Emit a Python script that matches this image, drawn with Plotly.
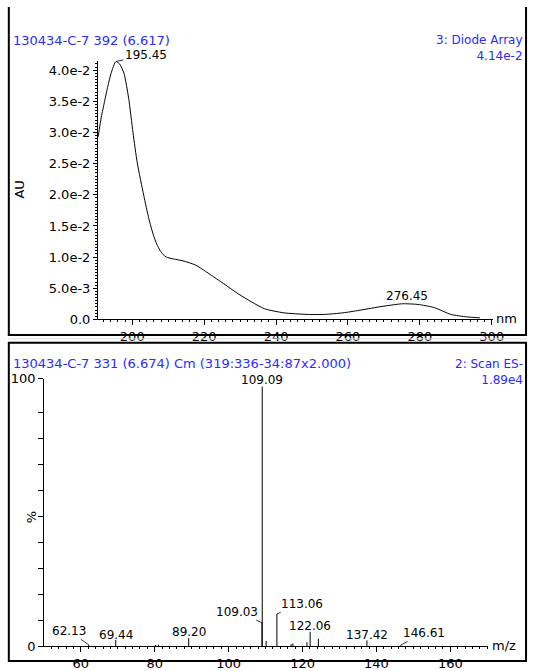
import plotly.graph_objects as go

W, H = 539, 671

# ---------------- data ----------------
uv_nm = [190.5, 191.4, 192.3, 193.2, 194.1, 195.45, 196.5, 197.7, 199.0, 200.2, 201.4,
         203.2, 204.6, 205.9, 206.8, 207.7, 208.6, 209.5, 211.5, 214.1, 217.7, 220.4,
         225.0, 229.5, 233.2, 236.8, 242.2, 248.6, 253.5, 258.6, 263.1, 268.6, 274.9,
         276.45, 279.5, 284.0, 288.6, 293.1, 296.7]
uv_au = [0.0293, 0.0325, 0.0350, 0.0374, 0.0395, 0.0414, 0.0410, 0.0395, 0.0355, 0.0300,
         0.0251, 0.0199, 0.0162, 0.0135, 0.0121, 0.0111, 0.0104, 0.0100, 0.0097, 0.0094,
         0.0087, 0.0077, 0.0059, 0.0041, 0.0028, 0.0017, 0.00105, 0.0008, 0.0008,
         0.00105, 0.00145, 0.0020, 0.0025, 0.0025, 0.0024, 0.0019, 0.0008, 0.0004, 0.00025]
uv_peaks = [195.45, 276.45]
uv_peak_au = [0.0414, 0.0025]
uv_xticks = [200, 220, 240, 260, 280, 300]
uv_yticks = [0.0, 0.005, 0.010, 0.015, 0.020, 0.025, 0.030, 0.035, 0.040]
uv_yticktext = ["0.0", "5.0e-3", "1.0e-2", "1.5e-2", "2.0e-2", "2.5e-2", "3.0e-2", "3.5e-2", "4.0e-2"]

ms_mz = [62.13, 69.44, 80.2, 81.0, 89.20, 109.03, 109.09, 110.15, 113.06, 116.9, 117.4,
         121.2, 122.06, 124.3, 137.42, 146.61]
ms_int = [0.5, 2.4, 0.4, 0.5, 3.1, 9.0, 100.0, 2.0, 12.4, 0.8, 1.0, 1.5, 5.5, 2.8, 2.2, 0.4]
ms_label_mz = [62.13, 69.44, 89.20, 109.03, 109.09, 113.06, 122.06, 137.42, 146.61]
ms_xticks = [60, 80, 100, 120, 140, 160]
ms_yticktext = ["0", "100"]

uv_title = "130434-C-7 392 (6.617)"
uv_func = "3: Diode Array"
uv_max = "4.14e-2"
ms_title = "130434-C-7 331 (6.674) Cm (319:336-34:87x2.000)"
ms_func = "2: Scan ES-"
ms_max = "1.89e4"

# ---------------- styling ----------------
FONT = "DejaVu Sans"
FS = 13
FS_PEAK = 12
BLUE = "#2B2BFF"
MS_TOP = 103.0  # axis extends a little above the 100 % level


def px(x):
    return x / W


def py(y):
    return 1 - y / H


fig = go.Figure()

fig.add_trace(go.Scatter(x=uv_nm, y=uv_au, mode="lines",
                         line=dict(color="black", width=1, shape="spline", smoothing=0.6),
                         xaxis="x", yaxis="y", hoverinfo="skip", showlegend=False))

sx, sy = [], []
for m, h in zip(ms_mz, ms_int):
    sx += [m, m, None]
    sy += [0, h, None]
fig.add_trace(go.Scatter(x=sx, y=sy, mode="lines", line=dict(color="black", width=1),
                         xaxis="x2", yaxis="y2", hoverinfo="skip", showlegend=False))

axis_common = dict(showline=True, linecolor="black", linewidth=1, ticks="outside",
                   tickcolor="black", showgrid=False, zeroline=False,
                   tickfont=dict(family=FONT, size=FS, color="black"))

fig.update_layout(
    width=W, height=H, autosize=False,
    margin=dict(l=0, r=0, t=0, b=0),
    paper_bgcolor="white", plot_bgcolor="white",
    xaxis=dict(domain=[px(100), px(503)], range=[190.46, 300.27], anchor="y",
               tickvals=uv_xticks, ticktext=[str(v) for v in uv_xticks], ticklen=5,
               minor=dict(ticks="outside", ticklen=2, dtick=2, tick0=190, tickcolor="black"),
               **axis_common),
    yaxis=dict(domain=[py(321), py(56)], range=[0, 0.0414], anchor="x",
               tickvals=uv_yticks, ticktext=uv_yticktext, ticklen=4,
               minor=dict(ticks="outside", ticklen=2, dtick=0.0005, tick0=0, tickcolor="black"),
               **axis_common),
    xaxis2=dict(domain=[px(45), px(498)], range=[50.05, 170.15], anchor="y2",
                tickvals=ms_xticks, ticktext=[str(v) for v in ms_xticks], ticklen=5,
                minor=dict(ticks="outside", ticklen=2, dtick=2, tick0=50, tickcolor="black"),
                **axis_common),
    yaxis2=dict(domain=[py(656.7), py(382)], range=[0, MS_TOP], anchor="x2",
                tickvals=[0, MS_TOP], ticktext=ms_yticktext, ticklen=5,
                minor=dict(ticks="outside", ticklen=5, tickvals=[10, 20, 30, 40, 50, 60, 70, 80, 90],
                           tickcolor="black"),
                **axis_common),
)

ann = []


def paper_text(text, x, y, xanchor, color="black", size=FS, angle=0, align="left"):
    ann.append(dict(text=text, x=px(x), y=py(y), xref="paper", yref="paper",
                    xanchor=xanchor, yanchor="middle", showarrow=False, textangle=angle,
                    align=align, font=dict(family=FONT, size=size, color=color)))


paper_text(uv_title, 11, 34, "left", BLUE)
paper_text(uv_func + "<br>" + uv_max, 536, 42, "right", BLUE, size=12, align="right")
paper_text(ms_title, 11, 366, "left", BLUE)
paper_text(ms_func + "<br>" + ms_max, 536, 375, "right", BLUE, size=12, align="right")
paper_text("AU", 20, 188, "center", angle=-90)
paper_text("%", 33, 524, "center", angle=-90)
paper_text("nm", 517, 320, "center")
paper_text("m/z", 514, 656, "center")


def peak_label(x, y, xr, yr, ax=None, ay=None, yshift=0, xshift=0):
    d = dict(text=f"{x:.2f}", x=x, y=y, xref=xr, yref=yr,
             font=dict(family=FONT, size=FS_PEAK, color="black"))
    if ax is not None:
        d.update(showarrow=True, arrowhead=0, arrowwidth=0.8, arrowcolor="black",
                 ax=ax, ay=ay, standoff=0)
    else:
        d.update(showarrow=False, yanchor="middle", yshift=yshift, xshift=xshift)
    ann.append(d)


# UV peak labels
peak_label(uv_peaks[0], uv_peak_au[0], "x", "y", ax=30, ay=-6)
peak_label(uv_peaks[1], uv_peak_au[1], "x", "y", yshift=8)

# MS peak labels (offsets for layout only)
ms_offsets = {
    62.13: dict(ax=-20, ay=-14),
    69.44: dict(yshift=5),
    89.20: dict(yshift=6.5),
    109.03: dict(ax=-25, ay=-11),
    109.09: dict(yshift=7),
    113.06: dict(ax=25, ay=-10),
    122.06: dict(yshift=5.6),
    137.42: dict(yshift=5.7),
    146.61: dict(ax=23, ay=-12),
}
lookup = dict(zip(ms_mz, ms_int))
for m in ms_label_mz:
    peak_label(m, lookup[m], "x2", "y2", **ms_offsets[m])

fig.update_layout(annotations=ann)

# panel frames
shapes = [
    dict(type="line", xref="paper", yref="paper", x0=px(9), x1=px(9), y0=py(0), y1=py(337),
         line=dict(color="black", width=2)),
    dict(type="line", xref="paper", yref="paper", x0=px(537), x1=px(537), y0=py(0), y1=py(337),
         line=dict(color="black", width=2)),
    dict(type="line", xref="paper", yref="paper", x0=px(8), x1=px(538), y0=py(337), y1=py(337),
         line=dict(color="black", width=2)),
    dict(type="line", xref="paper", yref="paper", x0=px(8), x1=px(538), y0=py(341), y1=py(341),
         line=dict(color="#DDDDDD", width=1)),
    dict(type="rect", xref="paper", yref="paper", x0=px(9), x1=px(537), y0=py(345), y1=py(672),
         line=dict(color="black", width=2)),
]
fig.update_layout(shapes=shapes)

fig.write_html("out.html")
